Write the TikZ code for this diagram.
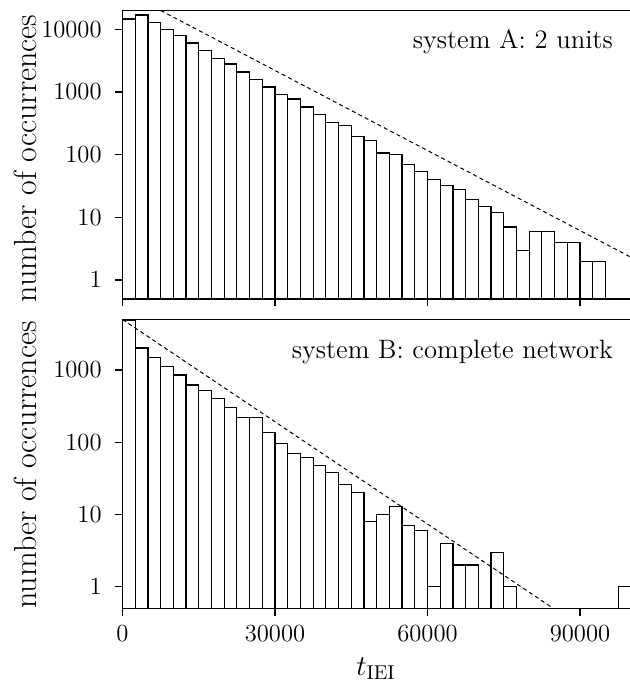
\documentclass[tikz,border=0pt]{standalone}
\begin{document}
\begin{tikzpicture}[x=0.5pt,y=-0.5pt,
  lbl/.style={font=\fontsize{12.3}{14}\selectfont, inner sep=0pt},
  annot/.style={font=\fontsize{13.3}{15}\selectfont, inner sep=0pt},
  axlbl/.style={font=\fontsize{16}{18}\selectfont, inner sep=0pt},
  xlbl/.style={font=\fontsize{14.5}{17}\selectfont, inner sep=0pt},
  barbox/.style={draw=black, line width=0.6pt, fill=white},
  axisline/.style={line width=0.9pt},
  fitline/.style={dash pattern=on 2pt off 1.6pt, line width=0.5pt},
  tickline/.style={line width=0.6pt}]
\useasboundingbox (0,0) rectangle (629,682);
% ---------- top panel ----------
\foreach \L [count=\i from 0] in {4.164,4.228,4.111,3.994,3.898,3.780,3.663,3.539,3.446,3.318,3.200,3.079,2.960,2.887,2.759,2.646,2.519,2.459,2.294,2.220,2.025,2.000,1.839,1.732,1.602,1.505,1.447,1.279,1.176,1.079,0.845,0.477,0.778,0.778,0.602,0.602,0.301,0.301} {
  \pgfmathsetmacro\xa{122.5+12.7083*\i}
  \pgfmathsetmacro\xb{122.5+12.7083*(\i+1)}
  \pgfmathsetmacro\yt{280-62.675*\L}
  \draw[barbox] (\xa,298.9) rectangle (\xb,\yt);
}
\begin{scope}
  \clip (122.5,10.4) rectangle (630.8,298.9);
  \draw[fitline] (122.5,-9.6) -- (630.8,257.2);
\end{scope}
\draw[axisline] (122.5,10.4) rectangle (630.8,298.9);
\foreach \L/\t in {0/1,1/10,2/100,3/1000,4/10000} {
  \pgfmathsetmacro\yy{280-62.675*\L}
  \draw[tickline] (115,\yy) -- (122.5,\yy);
  \node[lbl, anchor=base east] (ta\L) at (102,\yy+7.9) {\t};
}
\foreach \k in {0,1,2,3} {
  \pgfmathsetmacro\xx{122.5+152.5*\k}
  \draw[tickline] (\xx,298.9) -- (\xx,306);
}
\node[annot, anchor=base east] (sysA) at (613.3,48) {system A: 2 units};
\node[axlbl, rotate=90, anchor=base] (ylA) at (36.5,158.5) {number of occurrences};
% ---------- bottom panel ----------
\foreach \i/\L in {0/3.686,1/3.305,2/3.172,3/3.047,4/2.930,5/2.792,6/2.718,7/2.611,8/2.477,9/2.338,10/2.346,11/2.134,12/1.987,13/1.845,14/1.792,15/1.681,16/1.580,17/1.415,18/1.301,19/0.903,20/1.0,21/1.114,22/0.845,23/0.778,24/0,25/0.602,26/0.301,27/0.301,29/0.477,30/0,39/0} {
  \pgfmathsetmacro\xa{122.5+12.7083*\i}
  \pgfmathsetmacro\xb{122.5+12.7083*(\i+1)}
  \pgfmathsetmacro\yt{586.7-72.23*\L}
  \draw[barbox] (\xa,608.4) rectangle (\xb,\yt);
}
\begin{scope}
  \clip (122.5,319.5) rectangle (630.8,608.4);
  \draw[fitline] (122.5,319.5) -- (553.3,608.4);
\end{scope}
\draw[axisline] (122.5,319.5) rectangle (630.8,608.4);
\foreach \L/\t in {0/1,1/10,2/100,3/1000} {
  \pgfmathsetmacro\yy{586.7-72.23*\L}
  \draw[tickline] (115,\yy) -- (122.5,\yy);
  \node[lbl, anchor=base east] (tb\L) at (102,\yy+7.9) {\t};
}
\foreach \k/\t in {0/0,1/30000,2/60000,3/90000} {
  \pgfmathsetmacro\xx{122.5+152.5*\k}
  \draw[tickline] (\xx,608.4) -- (\xx,615.5);
  \node[lbl, anchor=base] (tx\k) at (\xx,641.7) {\t};
}
\node[annot, anchor=base east] (sysB) at (613.3,358) {system B: complete network};
\node[axlbl, rotate=90, anchor=base] (ylB) at (36.5,465) {number of occurrences};
\node[xlbl, anchor=base] (xl) at (376,675) {$t_{\mathrm{IEI}}$};
\end{tikzpicture}
\end{document}
